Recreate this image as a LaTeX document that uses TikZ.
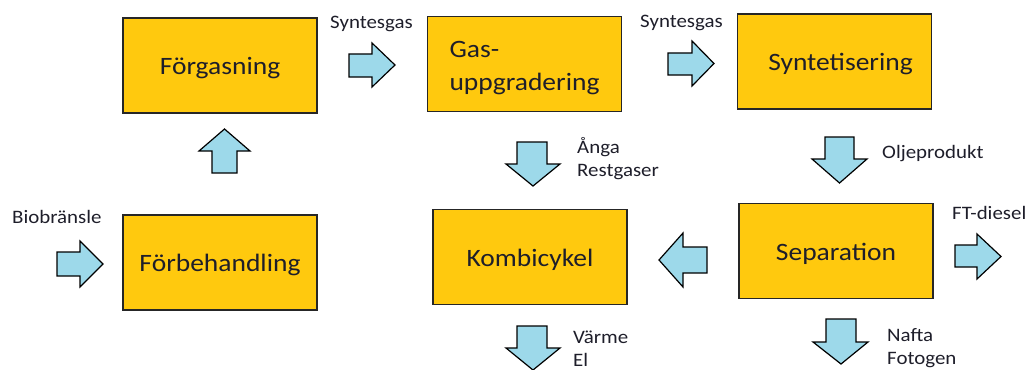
\documentclass[tikz,border=0pt]{standalone}
\usepackage{fontspec}
\setmainfont{Carlito}[FakeStretch=1.1]
\definecolor{boxfill}{HTML}{FFC90E}
\definecolor{flowfill}{HTML}{9DD9EA}
\definecolor{ink}{HTML}{1E1E2A}
\tikzset{
  stage/.style={draw=black!85, line width=1.4pt, fill=boxfill,
    minimum width=194pt, minimum height=95pt, inner sep=0pt,
    text height=22pt, text depth=4pt,
    font=\fontsize{25}{33}\selectfont, text=ink},
  twoline/.style={text height=, text depth=, align=left},
  flow/.style={draw=black, line width=1.2pt, fill=flowfill, line join=miter},
  tag/.style={font=\fontsize{19}{23}\selectfont, text=ink, inner sep=0pt, align=left},
}
\begin{document}
\begin{tikzpicture}[x=1pt, y=-1pt]
\useasboundingbox (0,0) rectangle (1032,369);

% process stages
\node[stage] (forgas) at (220,65.5) {Förgasning};
\node[stage, twoline] (gasupp) at (524.5,64) {\rule{0pt}{25pt}Gas-\\uppgradering};
\node[stage] (synt) at (834.5,61.5) {\hspace*{12pt}Syntetisering};
\node[stage] (forbeh) at (220,262.5) {Förbehandling};
\node[stage] (kombi) at (530,257) {Kombicykel};
\node[stage] (sep) at (836,251) {Separation};

% block arrows between the stages
% Biobränsle -> Förbehandling
\draw[flow] (57,252) -- (80,252) -- (80,241) -- (103,264) -- (80,287) -- (80,276) -- (57,276) -- cycle;
% Förbehandling -> Förgasning
\draw[flow] (212,173) -- (212,151) -- (199,151) -- (224.5,129) -- (250,151) -- (237,151) -- (237,173) -- cycle;
% Förgasning -> Gasuppgradering
\draw[flow] (349,54) -- (372,54) -- (372,43) -- (395,65) -- (372,87) -- (372,77) -- (349,77) -- cycle;
% Gasuppgradering -> Syntetisering
\draw[flow] (668,53) -- (692,53) -- (692,41) -- (714,63.5) -- (692,86) -- (692,75) -- (668,75) -- cycle;
% Gasuppgradering -> Kombicykel
\draw[flow] (517,142) -- (547,142) -- (547,164) -- (560,164) -- (533,186) -- (506,164) -- (517,164) -- cycle;
% Syntetisering -> Separation
\draw[flow] (825,137) -- (854,137) -- (854,159) -- (867,159) -- (839.5,183) -- (812,159) -- (825,159) -- cycle;
% Separation -> Kombicykel
\draw[flow] (707,247) -- (683,247) -- (683,233) -- (659,260) -- (683,287) -- (683,273) -- (707,273) -- cycle;
% Separation -> FT-diesel
\draw[flow] (955,245) -- (977,245) -- (977,234) -- (1001,256.5) -- (977,279) -- (977,267) -- (955,267) -- cycle;
% Kombicykel -> Värme, El
\draw[flow] (517,326) -- (547,326) -- (547,348) -- (560,348) -- (533,370) -- (506,348) -- (517,348) -- cycle;
% Separation -> Nafta, Fotogen
\draw[flow] (826,319) -- (856,319) -- (856,342) -- (868,342) -- (841,364) -- (813,342) -- (826,342) -- cycle;

% stream labels (two-line labels are anchored at their last baseline)
\node[tag, anchor=base west] (t-syn1) at (330,29) {Syntesgas};
\node[tag, anchor=base west] (t-syn2) at (640,28) {Syntesgas};
\node[tag, anchor=base west] (t-bio) at (12,223) {Biobränsle};
\node[tag, anchor=base west] (t-olje) at (882,158) {Oljeprodukt};
\node[tag, anchor=base west] (t-ft) at (952,219) {FT-diesel};
\node[tag, anchor=base west] (t-anga) at (577,176) {Ånga\\Restgaser};
\node[tag, anchor=base west] (t-varme) at (573,366) {Värme\\El};
\node[tag, anchor=base west] (t-nafta) at (887,364) {Nafta\\Fotogen};
\end{tikzpicture}
\end{document}
